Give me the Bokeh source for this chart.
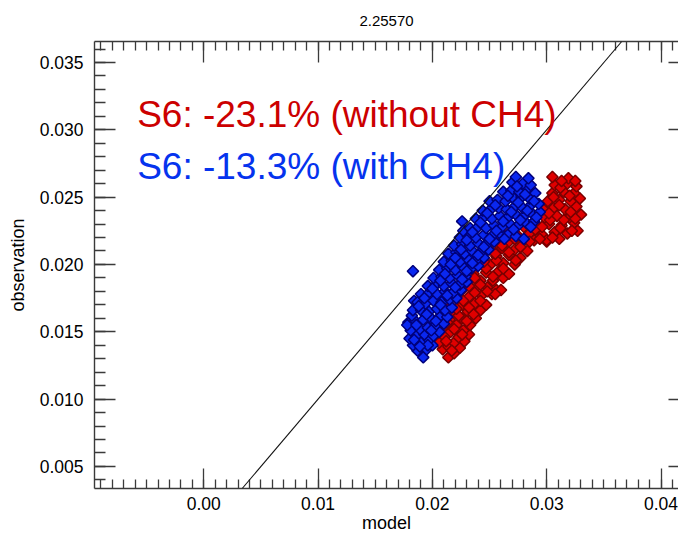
import math
from bokeh.plotting import figure
from bokeh.models import (LinearAxis, FixedTicker, NumeralTickFormatter, Label,
                          Slope, ColumnDataSource, Range1d, CustomJSTickFormatter)
from bokeh.embed import file_html
from bokeh.resources import INLINE

# ---------------- data ----------------
title_text = "2.25570"
x_label = "model"
y_label = "observation"
x_ticks = [0.00, 0.01, 0.02, 0.03, 0.04]
y_ticks = [0.005, 0.010, 0.015, 0.020, 0.025, 0.030, 0.035]
label_red = "S6: -23.1% (without CH4)"
label_blue = "S6: -13.3% (with CH4)"

# (model, observation) pairs, S6 without CH4
red_points = [
    (0.0214, 0.0131), (0.0219, 0.0134), (0.0209, 0.0137), (0.0224, 0.0138), (0.0214, 0.0139),
    (0.0206, 0.0142), (0.0219, 0.0142), (0.0228, 0.0143), (0.0211, 0.0146), (0.0223, 0.0146),
    (0.0232, 0.0148), (0.0205, 0.0149), (0.0216, 0.0150), (0.0227, 0.0151), (0.0210, 0.0154),
    (0.0221, 0.0155), (0.0233, 0.0155), (0.0215, 0.0159), (0.0226, 0.0160), (0.0238, 0.0160),
    (0.0210, 0.0162), (0.0220, 0.0164), (0.0231, 0.0165), (0.0242, 0.0166), (0.0216, 0.0169),
    (0.0226, 0.0170), (0.0237, 0.0171), (0.0247, 0.0170), (0.0221, 0.0175), (0.0232, 0.0176),
    (0.0243, 0.0177), (0.0252, 0.0178), (0.0226, 0.0181), (0.0237, 0.0182), (0.0248, 0.0183),
    (0.0256, 0.0181), (0.0231, 0.0187), (0.0242, 0.0188), (0.0253, 0.0188), (0.0262, 0.0190),
    (0.0236, 0.0193), (0.0247, 0.0194), (0.0258, 0.0195), (0.0267, 0.0193), (0.0240, 0.0199),
    (0.0251, 0.0200), (0.0262, 0.0201), (0.0272, 0.0200), (0.0245, 0.0205), (0.0256, 0.0206),
    (0.0267, 0.0207), (0.0277, 0.0205), (0.0250, 0.0211), (0.0261, 0.0212), (0.0272, 0.0211),
    (0.0283, 0.0210), (0.0256, 0.0216), (0.0267, 0.0217), (0.0278, 0.0216), (0.0289, 0.0218),
    (0.0300, 0.0217), (0.0311, 0.0219), (0.0263, 0.0221), (0.0274, 0.0222), (0.0285, 0.0223),
    (0.0296, 0.0222), (0.0307, 0.0224), (0.0318, 0.0223), (0.0327, 0.0225), (0.0280, 0.0228),
    (0.0291, 0.0229), (0.0302, 0.0230), (0.0313, 0.0229), (0.0324, 0.0231), (0.0298, 0.0235),
    (0.0309, 0.0236), (0.0320, 0.0235), (0.0330, 0.0237), (0.0297, 0.0241), (0.0306, 0.0242),
    (0.0316, 0.0241), (0.0326, 0.0243), (0.0301, 0.0247), (0.0311, 0.0248), (0.0321, 0.0247),
    (0.0329, 0.0249), (0.0305, 0.0253), (0.0315, 0.0254), (0.0324, 0.0253), (0.0307, 0.0259),
    (0.0318, 0.0260), (0.0326, 0.0258), (0.0305, 0.0265), (0.0319, 0.0264), (0.0325, 0.0262),
    (0.0300, 0.0218), (0.0322, 0.0225), (0.0273, 0.0203), (0.0260, 0.0181), (0.0255, 0.0178),
    (0.0217, 0.0136), (0.0212, 0.0143), (0.0226, 0.0148), (0.0219, 0.0152), (0.0230, 0.0158),
    (0.0213, 0.0157), (0.0223, 0.0162), (0.0236, 0.0163), (0.0221, 0.0167), (0.0232, 0.0168),
    (0.0242, 0.0173), (0.0227, 0.0173), (0.0237, 0.0179), (0.0248, 0.0180), (0.0232, 0.0184),
    (0.0242, 0.0185), (0.0253, 0.0191), (0.0237, 0.0190), (0.0247, 0.0197), (0.0262, 0.0197),
    (0.0256, 0.0203), (0.0245, 0.0202), (0.0267, 0.0209), (0.0255, 0.0208), (0.0261, 0.0214),
    (0.0277, 0.0213), (0.0272, 0.0219), (0.0294, 0.0219), (0.0305, 0.0220), (0.0268, 0.0224),
    (0.0290, 0.0226), (0.0312, 0.0227), (0.0303, 0.0233), (0.0315, 0.0233), (0.0325, 0.0234),
    (0.0302, 0.0238), (0.0321, 0.0239), (0.0311, 0.0244), (0.0306, 0.0250), (0.0320, 0.0251),
    (0.0312, 0.0257), (0.0313, 0.0262), (0.0296, 0.0228), (0.0285, 0.0217),
]

# (model, observation) pairs, S6 with CH4
blue_points = [
    (0.0192, 0.0131), (0.0187, 0.0136), (0.0195, 0.0137), (0.0200, 0.0140), (0.0183, 0.0140),
    (0.0190, 0.0142), (0.0197, 0.0144), (0.0180, 0.0145), (0.0186, 0.0147), (0.0193, 0.0148),
    (0.0201, 0.0147), (0.0206, 0.0150), (0.0181, 0.0151), (0.0189, 0.0152), (0.0196, 0.0153),
    (0.0203, 0.0155), (0.0210, 0.0156), (0.0179, 0.0157), (0.0185, 0.0158), (0.0192, 0.0159),
    (0.0199, 0.0160), (0.0206, 0.0161), (0.0213, 0.0161), (0.0183, 0.0195), (0.0184, 0.0173),
    (0.0182, 0.0162), (0.0178, 0.0155), (0.0183, 0.0166), (0.0190, 0.0166), (0.0197, 0.0165),
    (0.0204, 0.0167), (0.0211, 0.0166), (0.0217, 0.0168), (0.0187, 0.0172), (0.0194, 0.0171),
    (0.0201, 0.0173), (0.0208, 0.0172), (0.0215, 0.0174), (0.0221, 0.0175), (0.0190, 0.0178),
    (0.0197, 0.0179), (0.0204, 0.0178), (0.0211, 0.0180), (0.0218, 0.0179), (0.0225, 0.0181),
    (0.0196, 0.0184), (0.0203, 0.0185), (0.0210, 0.0184), (0.0217, 0.0186), (0.0224, 0.0185),
    (0.0230, 0.0187), (0.0201, 0.0190), (0.0208, 0.0191), (0.0215, 0.0190), (0.0222, 0.0192),
    (0.0229, 0.0191), (0.0206, 0.0196), (0.0213, 0.0197), (0.0220, 0.0196), (0.0227, 0.0198),
    (0.0234, 0.0197), (0.0240, 0.0199), (0.0210, 0.0202), (0.0217, 0.0203), (0.0224, 0.0202),
    (0.0231, 0.0204), (0.0238, 0.0203), (0.0245, 0.0205), (0.0214, 0.0208), (0.0221, 0.0209),
    (0.0228, 0.0208), (0.0235, 0.0210), (0.0242, 0.0209), (0.0249, 0.0211), (0.0219, 0.0214),
    (0.0226, 0.0215), (0.0233, 0.0214), (0.0240, 0.0216), (0.0247, 0.0215), (0.0254, 0.0217),
    (0.0224, 0.0220), (0.0231, 0.0221), (0.0238, 0.0220), (0.0245, 0.0222), (0.0252, 0.0221),
    (0.0259, 0.0223), (0.0266, 0.0222), (0.0273, 0.0221), (0.0280, 0.0219), (0.0226, 0.0232),
    (0.0227, 0.0225), (0.0233, 0.0227), (0.0240, 0.0228), (0.0247, 0.0227), (0.0254, 0.0229),
    (0.0261, 0.0228), (0.0268, 0.0230), (0.0275, 0.0229), (0.0282, 0.0231), (0.0289, 0.0232),
    (0.0238, 0.0234), (0.0245, 0.0235), (0.0252, 0.0234), (0.0259, 0.0236), (0.0266, 0.0235),
    (0.0273, 0.0237), (0.0280, 0.0236), (0.0287, 0.0238), (0.0294, 0.0239), (0.0244, 0.0240),
    (0.0251, 0.0241), (0.0258, 0.0242), (0.0265, 0.0241), (0.0272, 0.0243), (0.0279, 0.0242),
    (0.0286, 0.0244), (0.0293, 0.0245), (0.0250, 0.0247), (0.0257, 0.0248), (0.0264, 0.0247),
    (0.0271, 0.0249), (0.0278, 0.0250), (0.0285, 0.0249), (0.0262, 0.0254), (0.0269, 0.0255),
    (0.0276, 0.0254), (0.0283, 0.0256), (0.0290, 0.0253), (0.0270, 0.0261), (0.0279, 0.0260),
    (0.0286, 0.0259), (0.0273, 0.0265), (0.0284, 0.0264), (0.0196, 0.0140),
    (0.0189, 0.0139), (0.0184, 0.0144), (0.0199, 0.0151), (0.0186, 0.0155), (0.0203, 0.0158),
    (0.0195, 0.0163), (0.0188, 0.0169), (0.0207, 0.0170), (0.0193, 0.0175), (0.0213, 0.0177),
    (0.0200, 0.0182), (0.0220, 0.0183), (0.0207, 0.0188), (0.0226, 0.0189), (0.0211, 0.0193),
    (0.0230, 0.0195), (0.0216, 0.0200), (0.0235, 0.0201), (0.0220, 0.0205), (0.0240, 0.0207),
    (0.0225, 0.0211), (0.0245, 0.0213), (0.0230, 0.0218), (0.0250, 0.0219), (0.0263, 0.0219),
    (0.0235, 0.0224), (0.0256, 0.0225), (0.0271, 0.0226), (0.0286, 0.0228), (0.0242, 0.0231),
    (0.0262, 0.0232), (0.0277, 0.0233), (0.0291, 0.0235), (0.0248, 0.0238), (0.0269, 0.0239),
    (0.0283, 0.0240), (0.0255, 0.0244), (0.0275, 0.0246), (0.0289, 0.0247), (0.0266, 0.0251),
    (0.0281, 0.0252), (0.0274, 0.0258),
]

# ---------------- figure ----------------
FONT = "Liberation Sans"
AX_COL = "#3a3a3a"

x_minor = [round(-0.009 + 0.001 * i, 4) for i in range(51)]
y_minor = [round(0.004 + 0.001 * i, 4) for i in range(33)]

p = figure(width=678, height=535,
           x_range=Range1d(-0.00956, 0.04153), y_range=Range1d(0.00336, 0.03656),
           output_backend="svg", toolbar_location=None,
           x_axis_location=None, y_axis_location=None,
           min_border_left=94, min_border_right=0, min_border_top=41, min_border_bottom=42)
p.grid.visible = False
p.outline_line_color = None
p.background_fill_color = "white"
p.border_fill_color = "white"

p.title.text = title_text
p.title.align = "center"
p.title.vertical_align = "top"
p.title.standoff = 28
p.title.text_font = FONT
p.title.text_font_size = "15px"
p.title.text_font_style = "normal"
p.title.text_color = "black"


def style_axis(ax, tick_in, minor_in):
    ax.axis_line_color = AX_COL
    ax.axis_line_width = 1.4
    ax.major_tick_line_color = AX_COL
    ax.major_tick_line_width = 1.3
    ax.minor_tick_line_color = AX_COL
    ax.minor_tick_line_width = 1.3
    ax.major_tick_in = tick_in
    ax.major_tick_out = 0
    ax.minor_tick_in = minor_in
    ax.minor_tick_out = 0
    ax.major_label_text_font = FONT
    ax.major_label_text_color = "black"
    ax.major_label_text_font_size = "17.5px"


xb = LinearAxis(ticker=FixedTicker(ticks=x_ticks, minor_ticks=x_minor),
                formatter=NumeralTickFormatter(format="0.00"),
                axis_label=x_label, axis_label_text_font_size="18px",
                axis_label_text_font=FONT, axis_label_text_font_style="normal",
                axis_label_text_color="black")
style_axis(xb, 20, 9)
xb.major_label_standoff = 8
xb.axis_label_standoff = 0
p.add_layout(xb, "below")

yl = LinearAxis(ticker=FixedTicker(ticks=y_ticks, minor_ticks=y_minor),
                formatter=NumeralTickFormatter(format="0.000"),
                axis_label=y_label, axis_label_text_font_size="18px",
                axis_label_text_font=FONT, axis_label_text_font_style="normal",
                axis_label_text_color="black")
style_axis(yl, 21, 11)
yl.major_label_standoff = 11
yl.axis_label_standoff = 9
p.add_layout(yl, "left")

blank = CustomJSTickFormatter(code="return ''")

xt = LinearAxis(ticker=FixedTicker(ticks=x_ticks, minor_ticks=x_minor), formatter=blank)
style_axis(xt, 21, 9)
xt.major_label_standoff = 0
p.add_layout(xt, "above")

yr = LinearAxis(ticker=FixedTicker(ticks=y_ticks, minor_ticks=[]), formatter=blank)
style_axis(yr, 10, 0)
yr.major_label_standoff = 0
yr.axis_line_alpha = 0
p.add_layout(yr, "right")

# 1:1 line
p.add_layout(Slope(gradient=1, y_intercept=0, line_color="#111111", line_width=1.1))

red_src = ColumnDataSource(dict(x=[a for a, b in red_points], y=[b for a, b in red_points]))
blue_src = ColumnDataSource(dict(x=[a for a, b in blue_points], y=[b for a, b in blue_points]))

p.scatter("x", "y", source=red_src, marker="square", angle=math.pi / 4, size=8,
          fill_color="#e00000", line_color="#7a0000", line_width=1.5)
p.scatter("x", "y", source=blue_src, marker="square", angle=math.pi / 4, size=8,
          fill_color="#0a28f0", line_color="#00007a", line_width=1.5)

p.add_layout(Label(x=-0.00583, y=0.03114, text=label_red, text_font=FONT,
                   text_font_size="37px", text_color="#cc0000", text_baseline="alphabetic"))
p.add_layout(Label(x=-0.00583, y=0.02725, text=label_blue, text_font=FONT,
                   text_font_size="37px", text_color="#0533ee", text_baseline="alphabetic"))

open("out.html", "w").write(file_html(p, INLINE))
